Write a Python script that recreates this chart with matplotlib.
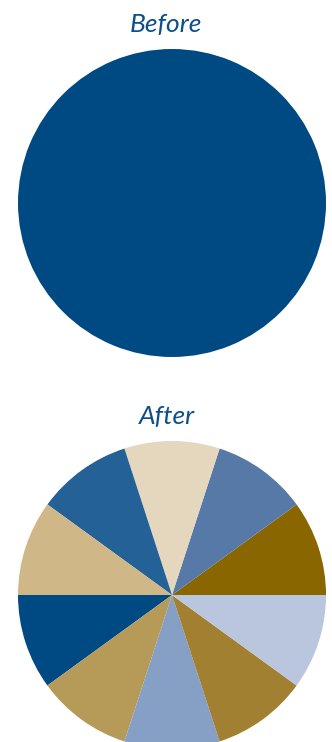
import matplotlib.pyplot as plt

# valores
antes_valores = [100]
antes_cores = ["#004a84"]

depois_valores = [10, 10, 10, 10, 10, 10, 10, 10, 10, 10]
depois_cores = ["#8a6600", "#5679a8", "#e4d7bd", "#246197", "#cfb787",
                "#004a84", "#b69a58", "#869fc4", "#a28032", "#b9c6de"]

titulos = ["Before", "After"]

figura = plt.figure(figsize=(3.32, 7.42), dpi=100)
ax = figura.add_axes([0, 0, 1, 1])
ax.set_xlim(0, 332)
ax.set_ylim(0, 742)
ax.set_aspect("equal")
ax.axis("off")

ax.pie(antes_valores, colors=antes_cores, radius=154, center=(172, 539),
       startangle=0, frame=True)
ax.pie(depois_valores, colors=depois_cores, radius=154, center=(172, 147),
       startangle=0, counterclock=True, frame=True)
ax.set_xlim(0, 332)
ax.set_ylim(0, 742)
ax.axis("off")

ax.text(166, 710, titulos[0], ha="center", va="baseline", fontsize=19,
        style="italic", family="Lato", color="#0d4f8b")
ax.text(167, 318, titulos[1], ha="center", va="baseline", fontsize=19,
        style="italic", family="Lato", color="#0d4f8b")

plt.savefig("out.png", dpi=100)
